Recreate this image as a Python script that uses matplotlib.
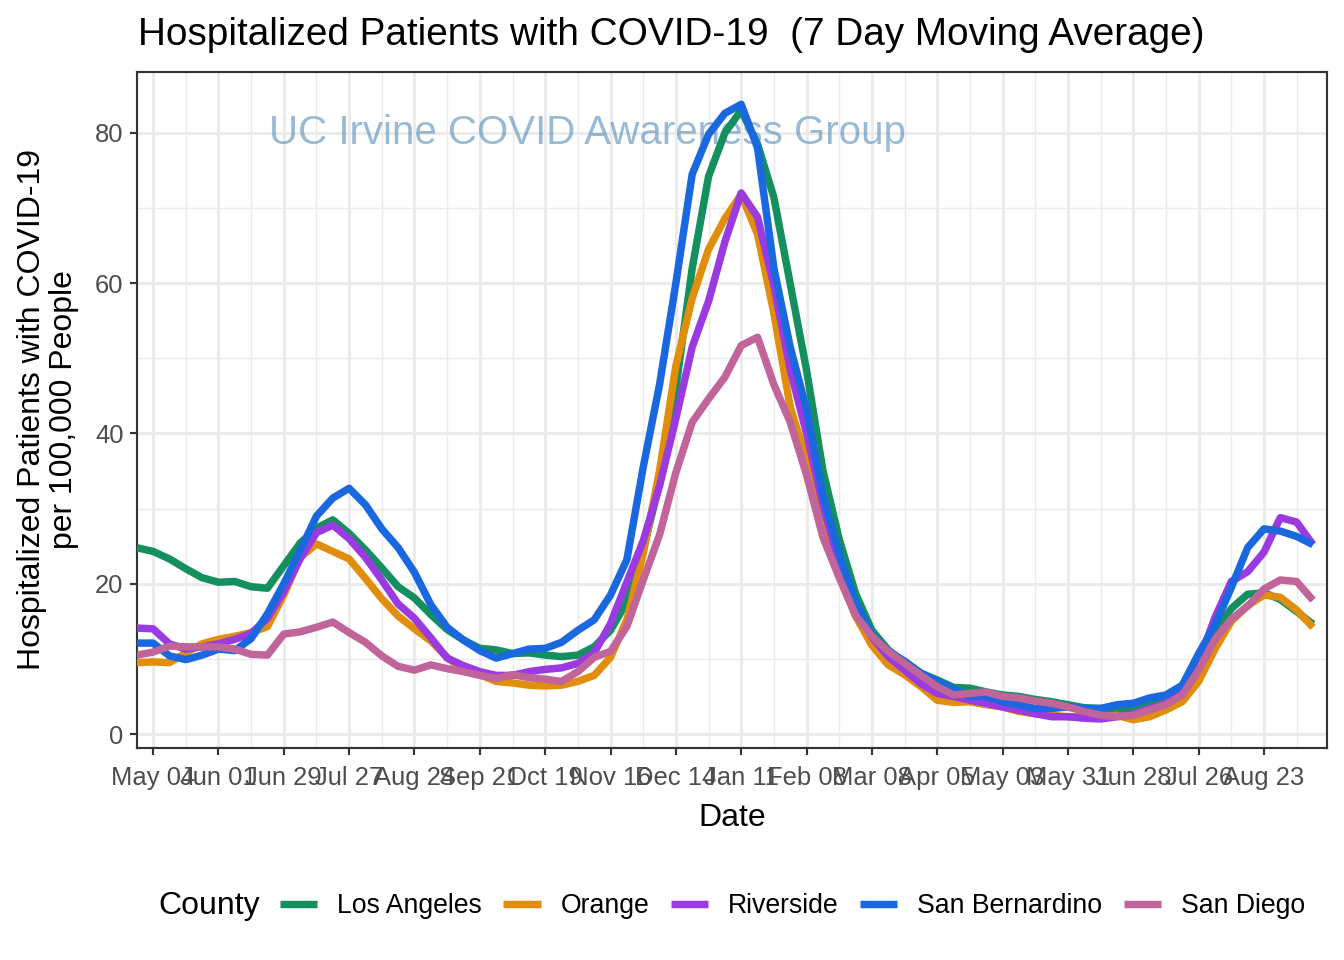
import numpy as np
import pandas as pd
import matplotlib
matplotlib.use("Agg")
import matplotlib.pyplot as plt
import matplotlib.dates as mdates
from matplotlib.lines import Line2D

plt.rcParams['font.family'] = ['Liberation Sans', 'DejaVu Sans']

# weekly readings, 2020-04-27 .. 2021-09-13
dates = pd.date_range('2020-04-27', periods=73, freq='7D')

los_angeles = [24.8, 24.3, 23.3, 22.0, 20.8, 20.2, 20.3, 19.6, 19.4, 22.4,
               25.4, 27.4, 28.5, 26.7, 24.5, 22.1, 19.6, 18.1, 15.9, 13.9,
               12.5, 11.4, 11.2, 10.7, 10.8, 10.5, 10.3, 10.5, 11.6, 13.8,
               17.6, 24.5, 33.4, 46.0, 62.0, 74.2, 80.0, 83.0, 78.5, 71.4,
               59.9, 48.4, 35.1, 25.9, 18.7, 13.8, 11.2, 9.5, 8.1, 7.2,
               6.2, 6.1, 5.6, 5.2, 5.0, 4.6, 4.3, 3.9, 3.5, 3.4,
               3.3, 3.5, 4.1, 5.0, 6.0, 9.3, 13.5, 16.7, 18.6, 18.8,
               17.9, 16.3, 14.6]
orange = [9.5, 9.6, 9.5, 10.8, 12.0, 12.6, 13.0, 13.5, 14.3, 18.5,
          23.5, 25.3, 24.3, 23.3, 20.7, 18.0, 15.7, 14.0, 12.4, 10.2,
          8.5, 7.9, 7.0, 6.8, 6.5, 6.4, 6.5, 7.0, 7.8, 10.2,
          15.2, 24.0, 35.0, 49.0, 58.0, 64.5, 68.6, 71.8, 66.5, 56.0,
          43.5, 36.5, 28.5, 21.0, 15.7, 11.8, 9.2, 7.9, 6.3, 4.5,
          4.2, 4.3, 3.9, 3.6, 3.0, 2.7, 2.5, 2.3, 2.3, 2.2,
          2.5, 1.9, 2.3, 3.2, 4.3, 7.0, 11.3, 15.0, 17.1, 18.5,
          18.2, 16.5, 14.2]
riverside = [14.1, 14.0, 12.0, 11.3, 11.6, 12.0, 12.6, 13.4, 15.4, 19.0,
             23.3, 26.8, 27.8, 26.0, 23.5, 20.5, 17.3, 15.4, 12.8, 10.1,
             9.1, 8.3, 7.8, 7.8, 8.3, 8.6, 8.8, 9.4, 10.8, 14.7,
             20.2, 25.7, 33.0, 42.0, 51.5, 57.6, 65.5, 72.0, 68.8, 59.7,
             48.5, 40.0, 30.4, 22.7, 17.4, 12.9, 10.3, 8.5, 6.7, 5.4,
             5.0, 4.5, 4.1, 3.6, 3.2, 2.7, 2.3, 2.3, 2.1, 2.0,
             2.3, 2.7, 3.4, 4.1, 5.8, 9.6, 15.5, 20.3, 21.6, 24.2,
             28.8, 28.2, 25.2]
san_bernardino = [12.1, 12.1, 10.4, 9.9, 10.5, 11.3, 11.1, 12.7, 16.0, 20.0,
                  24.4, 29.0, 31.4, 32.7, 30.5, 27.3, 24.8, 21.5, 17.2, 14.2,
                  12.5, 11.1, 10.1, 10.7, 11.3, 11.4, 12.2, 13.8, 15.2, 18.5,
                  23.2, 35.5, 46.5, 60.0, 74.5, 79.8, 82.6, 83.8, 78.0, 62.0,
                  51.5, 43.2, 31.8, 23.9, 17.5, 13.2, 11.0, 9.7, 8.1, 7.0,
                  6.0, 5.0, 5.0, 4.3, 3.9, 3.4, 3.4, 3.6, 3.4, 3.4,
                  3.9, 4.1, 4.8, 5.2, 6.5, 10.7, 14.5, 19.5, 24.8, 27.3,
                  27.0, 26.3, 25.2]
san_diego = [10.5, 10.9, 11.7, 11.6, 11.6, 11.6, 11.3, 10.6, 10.5, 13.3,
             13.6, 14.2, 14.9, 13.5, 12.2, 10.4, 9.0, 8.5, 9.2, 8.7,
             8.3, 7.8, 7.4, 7.9, 7.5, 7.3, 7.0, 8.3, 10.2, 11.0,
             14.3, 20.5, 26.5, 34.8, 41.5, 44.6, 47.5, 51.7, 52.8, 46.5,
             41.5, 34.5, 26.2, 20.8, 15.8, 13.0, 11.0, 9.4, 7.8, 6.3,
             5.2, 5.4, 5.6, 5.0, 4.8, 4.4, 4.1, 3.6, 3.0, 2.5,
             2.3, 2.5, 3.2, 3.9, 5.2, 8.5, 12.6, 15.3, 17.0, 19.3,
             20.5, 20.3, 17.8]

counties = ['Los Angeles', 'Orange', 'Riverside', 'San Bernardino', 'San Diego']
series = [los_angeles, orange, riverside, san_bernardino, san_diego]
colors = ['#14905F', '#E08E0B', '#9A3AE0', '#1968E0', '#C0649A']

fig = plt.figure(figsize=(7, 5), dpi=192)
W, H = 1344, 960
ax = fig.add_axes([137 / W, 1 - 748 / H, (1327 - 137) / W, (748 - 72) / H])

for vals, col in zip(series, colors):
    ax.plot(dates, vals, color=col, lw=2.8, solid_capstyle='butt',
            solid_joinstyle='round', zorder=3)

major = pd.date_range('2020-05-04', periods=18, freq='28D')
minor = pd.date_range('2020-05-18', periods=18, freq='28D')
ax.set_xticks(major)
ax.set_xticks(minor, minor=True)
ax.xaxis.set_major_formatter(mdates.DateFormatter('%b %d'))
ax.set_yticks([0, 20, 40, 60, 80])
ax.set_yticks([10, 30, 50, 70], minor=True)

# limits after the ticks, so set_xticks can't widen them
t0 = pd.Timestamp('2020-05-04')
ax.set_xlim(t0 - pd.Timedelta(days=6.9), t0 + pd.Timedelta(days=503))
ax.set_ylim(-1.86, 88.1)

ax.grid(which='major', color='#EBEBEB', lw=1.1, zorder=0)
ax.grid(which='minor', color='#EBEBEB', lw=0.55, zorder=0)
ax.set_axisbelow(True)
for s in ax.spines.values():
    s.set_color('#333333')
    s.set_linewidth(0.8)
ax.tick_params(which='major', length=2.6, width=0.8, color='#333333',
               labelsize=9.6, labelcolor='#4D4D4D', pad=2.5)
ax.tick_params(axis='x', which='major', pad=4)
ax.tick_params(which='minor', length=0)

ax.set_xlabel('Date', fontsize=12, labelpad=5)
ax.set_ylabel('Hospitalized Patients with COVID-19\nper 100,000 People', fontsize=12,
              labelpad=6, linespacing=1.1)

ax.text(pd.Timestamp('2020-11-06'), 80.0, 'UC Irvine COVID Awareness Group',
        color='#4682B4', alpha=0.55, fontsize=15.1, ha='center', va='center', zorder=2)

fig.text(138 / W, 1 - 35 / H, 'Hospitalized Patients with COVID-19  (7 Day Moving Average)',
         fontsize=14.55, ha='left', va='center')

fig.text(158 / W, 1 - 906 / H, 'County', fontsize=12, ha='left', va='center')
handles = [Line2D([0], [0], color=c, lw=2.8, solid_capstyle='butt') for c in colors]
fig.legend(handles, counties, loc='center left', bbox_to_anchor=(280 / W, 1 - 906 / H),
           ncol=5, frameon=False, fontsize=10.0, handlelength=1.4, handletextpad=0.75,
           columnspacing=0.8, borderpad=0, borderaxespad=0)

fig.savefig('out.png', dpi=192)
